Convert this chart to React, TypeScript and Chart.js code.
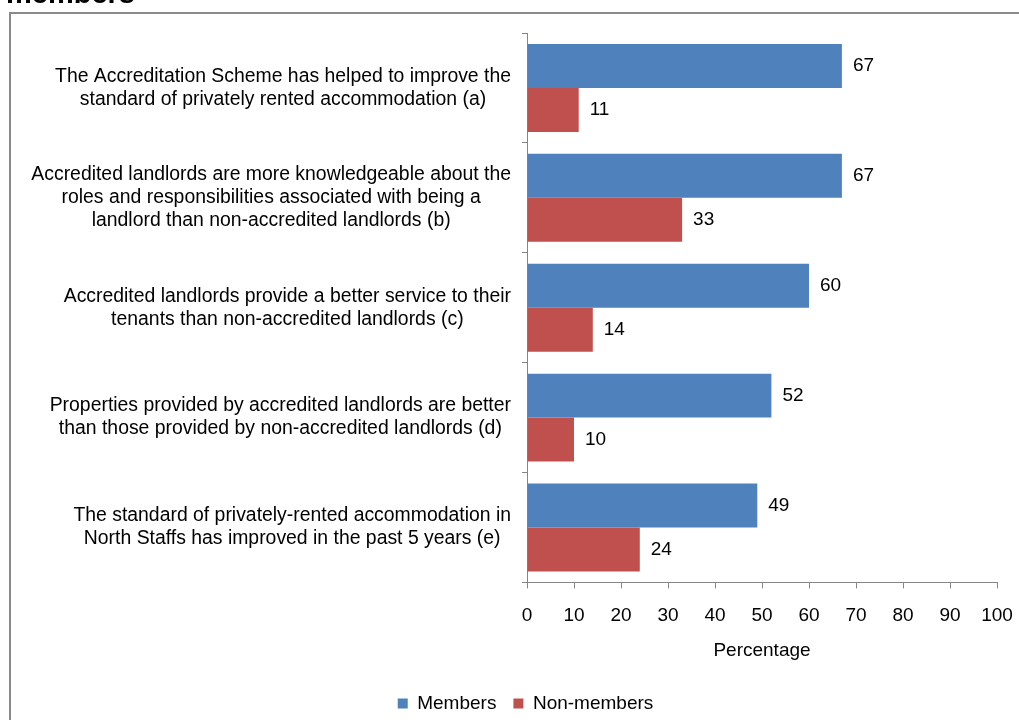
import React, { useEffect, useRef } from "react";
import { Chart, registerables } from "chart.js";

Chart.register(...registerables);

const titleText = "members";
const categories: string[][] = [
  ["The Accreditation Scheme has helped to improve the", "standard of privately rented accommodation (a)"],
  [
    "Accredited landlords are more knowledgeable about the",
    "roles and responsibilities associated with being a",
    "landlord than non-accredited landlords (b)",
  ],
  ["Accredited landlords provide a better service to their", "tenants than non-accredited landlords (c)"],
  ["Properties provided by accredited landlords are better", "than those provided by non-accredited landlords (d)"],
  ["The standard of privately-rented accommodation in", "North Staffs has improved in the past 5 years (e)"],
];
const seriesNames = ["Members", "Non-members"];
const members = [67, 67, 60, 52, 49];
const nonMembers = [11, 33, 14, 10, 24];
const xMin = 0;
const xMax = 100;
const xStep = 10;
const xAxisTitle = "Percentage";

const FONT_FAMILY = '"Liberation Sans", Arial, sans-serif';
const FONT_SIZE = 19;
const Y_FONT_SIZE = 19.4;
const AXIS_COLOR = "#868686";
const TEXT_COLOR = "#000000";

const framePlugin = {
  id: "frame",
  beforeDraw(chart: any) {
    const ctx = chart.ctx;
    ctx.save();
    ctx.fillStyle = "#ffffff";
    ctx.fillRect(0, 0, chart.width, chart.height);
    ctx.fillStyle = "#8a8a8a";
    ctx.fillRect(9, 12, 2, chart.height - 12);
    ctx.fillRect(9, 12, chart.width - 9, 2);
    ctx.fillStyle = TEXT_COLOR;
    ctx.font = `bold 29px ${FONT_FAMILY}`;
    ctx.textBaseline = "alphabetic";
    ctx.textAlign = "left";
    ctx.fillText(titleText, 6, 3);
    ctx.restore();
  },
};

const yLabelPlugin = {
  id: "yLabels",
  afterDraw(chart: any) {
    const ctx = chart.ctx;
    const yScale = chart.scales.y;
    const right = chart.chartArea.left - 16;
    const lineH = 23;
    ctx.save();
    ctx.font = `${Y_FONT_SIZE}px ${FONT_FAMILY}`;
    ctx.fillStyle = TEXT_COLOR;
    ctx.textBaseline = "middle";
    ctx.textAlign = "center";
    (chart.data.labels as string[][]).forEach((lines, i) => {
      const cy = yScale.getPixelForValue(i);
      const w = Math.max(...lines.map((l) => ctx.measureText(l).width));
      const cx = right - w / 2;
      lines.forEach((line, j) => {
        ctx.fillText(line, cx, cy + (j - (lines.length - 1) / 2) * lineH);
      });
    });
    ctx.restore();
  },
};

const valueLabelPlugin = {
  id: "valueLabels",
  afterDatasetsDraw(chart: any) {
    const ctx = chart.ctx;
    ctx.save();
    ctx.font = `${FONT_SIZE}px ${FONT_FAMILY}`;
    ctx.fillStyle = TEXT_COLOR;
    ctx.textBaseline = "middle";
    ctx.textAlign = "left";
    chart.data.datasets.forEach((ds: any, i: number) => {
      const meta = chart.getDatasetMeta(i);
      meta.data.forEach((el: any, j: number) => {
        ctx.fillText(String(ds.data[j]), el.x + 11, el.y);
      });
    });
    ctx.restore();
  },
};

export default function App() {
  const canvasRef = useRef<HTMLCanvasElement | null>(null);

  useEffect(() => {
    const canvas = canvasRef.current;
    if (!canvas) return;
    const font = { family: FONT_FAMILY, size: FONT_SIZE };
    const chart = new Chart(canvas, {
      type: "bar",
      data: {
        labels: categories as any,
        datasets: [
          {
            label: seriesNames[0],
            data: members,
            backgroundColor: "#4F81BD",
            barPercentage: 1,
            categoryPercentage: 0.8,
          },
          {
            label: seriesNames[1],
            data: nonMembers,
            backgroundColor: "#C0504D",
            barPercentage: 1,
            categoryPercentage: 0.8,
          },
        ],
      },
      options: {
        indexAxis: "y",
        responsive: false,
        animation: false,
        layout: { padding: { left: 54, right: 22, top: 33, bottom: -3 } },
        scales: {
          x: {
            type: "linear",
            min: xMin,
            max: xMax,
            ticks: { stepSize: xStep, padding: 16, color: TEXT_COLOR, font },
            grid: { drawOnChartArea: false, tickLength: 6, color: AXIS_COLOR },
            border: { color: AXIS_COLOR, width: 1 },
            title: {
              display: true,
              text: xAxisTitle,
              color: TEXT_COLOR,
              font,
              padding: { top: -4, bottom: 15 },
            },
            afterFit: (s: any) => {
              s.paddingLeft = 0;
              s.paddingRight = 0;
            },
          },
          y: {
            type: "category",
            ticks: { display: false },
            grid: { drawOnChartArea: false, tickLength: 5, color: AXIS_COLOR, offset: true },
            border: { color: AXIS_COLOR, width: 1 },
            afterFit: (s: any) => {
              s.width = 473;
            },
          },
        },
        plugins: {
          legend: {
            position: "bottom",
            labels: { boxWidth: 10, boxHeight: 10, padding: 17, color: TEXT_COLOR, font },
          },
          tooltip: { enabled: false },
        },
      },
      plugins: [framePlugin, yLabelPlugin, valueLabelPlugin],
    });
    return () => chart.destroy();
  }, []);

  return (
    <div
      style={{
        position: "fixed",
        left: 0,
        top: 0,
        width: 1019,
        height: 720,
        overflow: "hidden",
        background: "#ffffff",
      }}
    >
      <canvas ref={canvasRef} width={1019} height={720} style={{ display: "block" }} />
    </div>
  );
}
